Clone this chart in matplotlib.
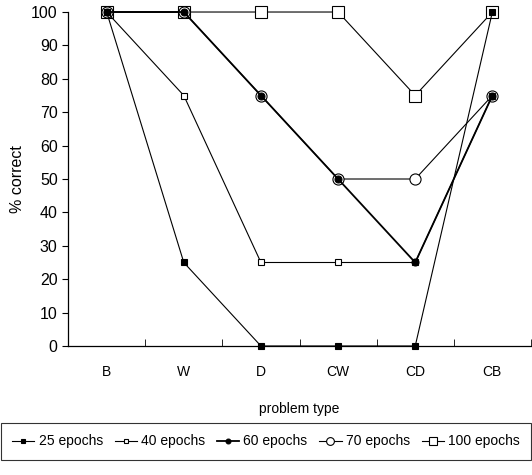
import numpy as np
import matplotlib.pyplot as plt

plt.rcParams['font.family'] = ['Liberation Sans', 'DejaVu Sans']

categories = ["B", "W", "D", "CW", "CD", "CB"]
labels = ["25 epochs", "40 epochs", "60 epochs", "70 epochs", "100 epochs"]
ep25 = [100, 25, 0, 0, 0, 100]
ep40 = [100, 75, 25, 25, 25, 75]
ep60 = [100, 100, 75, 50, 25, 75]
ep70 = [100, 100, 75, 50, 50, 75]
ep100 = [100, 100, 100, 100, 75, 100]

fig = plt.figure(figsize=(5.32, 4.75), dpi=100)
ax = fig.add_axes([0.128, 0.2716, 0.87, 0.7031])

x = np.arange(len(categories))
styles = [
    (ep25, dict(marker="s", ms=4.5, mfc="black", lw=0.8, zorder=6)),
    (ep40, dict(marker="s", ms=4.5, mfc="white", lw=0.8, zorder=5)),
    (ep60, dict(marker="o", ms=5, mfc="black", lw=1.3, zorder=5)),
    (ep70, dict(marker="o", ms=8, mfc="white", lw=0.8, zorder=4)),
    (ep100, dict(marker="s", ms=8.5, mfc="white", lw=0.8, zorder=3)),
]
for (vals, st), lab in zip(styles, labels):
    ax.plot(x, vals, color="black", mec="black", mew=0.8, label=lab, clip_on=False, **st)

ax.set_xlim(-0.5, 5.5)
ax.set_ylim(0, 100)
ax.set_yticks(range(0, 101, 10))
ax.set_xticks(x)
ax.set_xticklabels(categories)
ax.set_xticks(np.arange(-0.5, 6, 1), minor=True)
ax.tick_params(axis="x", which="major", length=0, pad=14)
ax.tick_params(axis="x", which="minor", length=5, direction="in")
ax.tick_params(axis="y", length=4, labelsize=11.5)
ax.tick_params(axis="x", labelsize=10)
ax.spines["top"].set_visible(False)
ax.spines["right"].set_visible(False)
ax.spines["bottom"].set_zorder(10)
for s in ax.spines.values():
    s.set_linewidth(0.9)

ax.set_ylabel("% correct", fontsize=11.5)
ax.set_xlabel("problem type", fontsize=10, labelpad=16)

leg = fig.legend(loc="lower center", bbox_to_anchor=(0.5, 0.018), ncol=5, frameon=True,
                 fancybox=False, edgecolor="black", fontsize=10, handlelength=1.6,
                 handletextpad=0.3, columnspacing=0.85, borderpad=0.8, markerscale=0.7)
leg.get_frame().set_linewidth(0.8)

fig.savefig("out.png", dpi=100)
